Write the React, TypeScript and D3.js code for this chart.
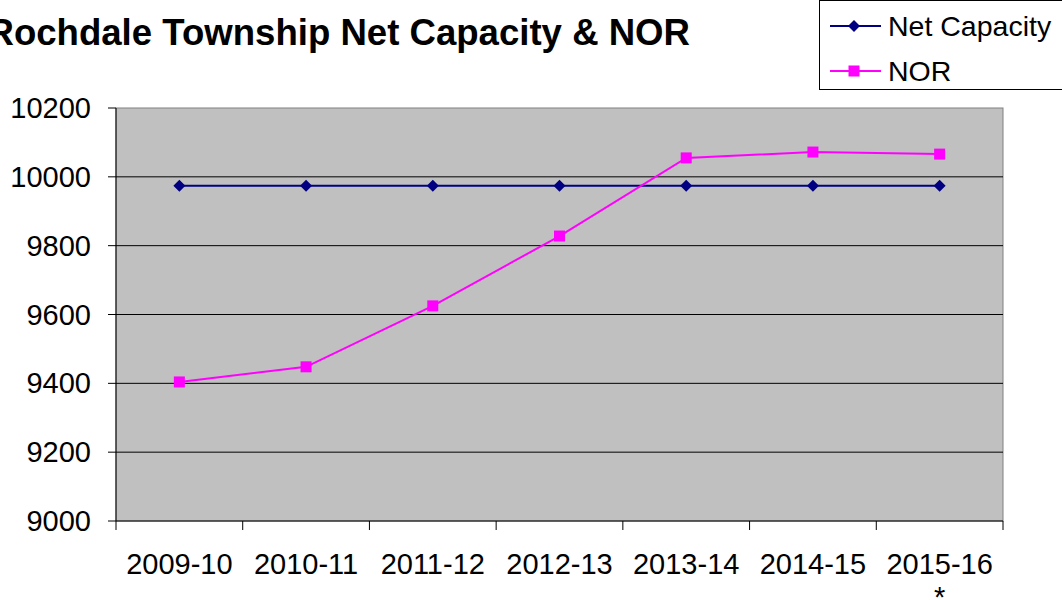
import React from 'react';
import * as d3 from 'd3';

const years = ['2009-10', '2010-11', '2011-12', '2012-13', '2013-14', '2014-15', '2015-16'];
const netCapacity = [9974, 9974, 9974, 9974, 9974, 9974, 9974];
const nor = [9404, 9448, 9625, 9828, 10055, 10072, 10066];
const yTicks = [9000, 9200, 9400, 9600, 9800, 10000, 10200];

const W = 1062;
const H = 600;
const plot = { left: 116, top: 108, right: 1003, bottom: 521 };
const font = 'Liberation Sans, Arial, sans-serif';

const App: React.FC = () => {
  const x = d3.scaleBand().domain(years).range([plot.left, plot.right]);
  const y = d3.scaleLinear().domain([9000, 10200]).range([plot.bottom, plot.top]);
  const cx = (d: string) => (x(d) || 0) + x.bandwidth() / 2;

  const line = d3.line<number>()
    .x((_, i) => cx(years[i]))
    .y(v => y(v));

  const diamond = (px: number, py: number, r: number) =>
    `M${px},${py - r}L${px + r},${py}L${px},${py + r}L${px - r},${py}Z`;

  const bounds = years.map(d => x(d) || 0).concat([plot.right]);

  return (
    <svg width={W} height={H} style={{ position: 'absolute', left: 0, top: 0, background: '#fff' }}
      fontFamily={font}>
      <text x={690} y={45} textAnchor="end" fontSize={36.6} fontWeight="bold" fill="#000">
        Rochdale Township Net Capacity &amp; NOR
      </text>

      <rect x={plot.left} y={plot.top} width={plot.right - plot.left} height={plot.bottom - plot.top}
        fill="#c0c0c0" stroke="#808080" strokeWidth={1} />

      {yTicks.filter(t => t > 9000 && t < 10200).map(t => (
        <line key={t} x1={plot.left} x2={plot.right} y1={y(t)} y2={y(t)} stroke="#000" strokeWidth={1} />
      ))}

      {/* y axis */}
      <line x1={plot.left} x2={plot.left} y1={plot.top} y2={plot.bottom} stroke="#000" strokeWidth={1} />
      {yTicks.map(t => (
        <g key={t}>
          <line x1={plot.left - 8} x2={plot.left} y1={y(t)} y2={y(t)} stroke="#000" />
          <text x={91} y={y(t)} dy="0.35em" textAnchor="end" fontSize={29} fill="#000">{t}</text>
        </g>
      ))}

      {/* x axis */}
      <line x1={plot.left} x2={plot.right} y1={plot.bottom} y2={plot.bottom} stroke="#000" strokeWidth={1} />
      {bounds.map((b, i) => (
        <line key={i} x1={b} x2={b} y1={plot.bottom} y2={plot.bottom + 9} stroke="#000" />
      ))}
      {years.map(d => (
        <text key={d} x={cx(d)} y={574} textAnchor="middle" fontSize={29} fill="#000">{d}</text>
      ))}
      <text x={cx(years[6])} y={607} textAnchor="middle" fontSize={29} fill="#000">*</text>

      {/* series */}
      <path d={line(netCapacity) || ''} fill="none" stroke="#000080" strokeWidth={2} />
      {netCapacity.map((v, i) => (
        <path key={i} d={diamond(cx(years[i]), y(v), 6)} fill="#000080" />
      ))}
      <path d={line(nor) || ''} fill="none" stroke="#ff00ff" strokeWidth={2} />
      {nor.map((v, i) => (
        <rect key={i} x={cx(years[i]) - 5.5} y={y(v) - 5.5} width={11} height={11} fill="#ff00ff" />
      ))}

      {/* legend */}
      <rect x={819.5} y={0.5} width={250} height={89} fill="#fff" stroke="#000" strokeWidth={1} />
      <line x1={830} x2={881} y1={26} y2={26} stroke="#000080" strokeWidth={2} />
      <path d={diamond(854, 26, 6)} fill="#000080" />
      <text x={888} y={36} fontSize={28.5} fill="#000">Net Capacity</text>
      <line x1={830} x2={881} y1={71} y2={71} stroke="#ff00ff" strokeWidth={2} />
      <rect x={848.5} y={65.5} width={11} height={11} fill="#ff00ff" />
      <text x={888} y={81} fontSize={28.5} fill="#000">NOR</text>
    </svg>
  );
};

export default App;
